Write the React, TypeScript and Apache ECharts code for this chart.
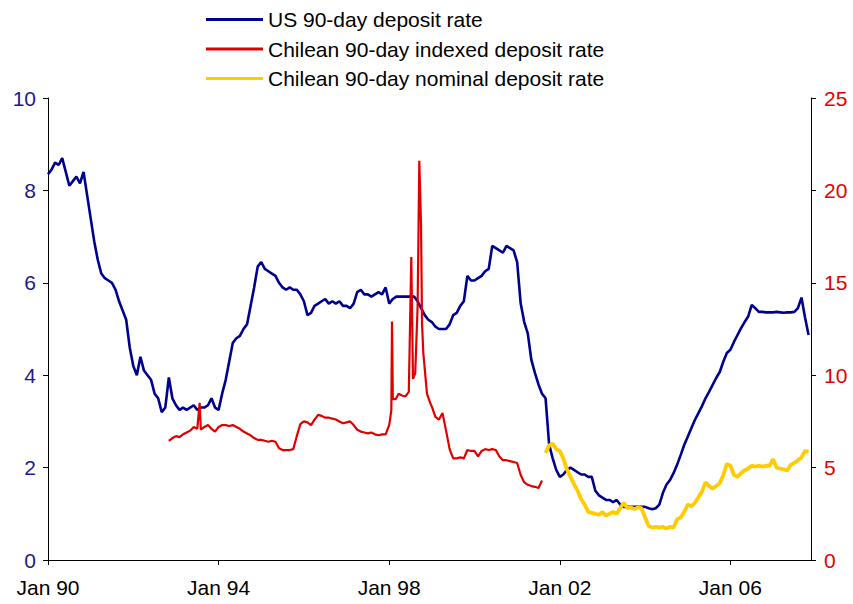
import React, { useEffect, useRef } from 'react';
import * as echarts from 'echarts';

// x axis (decimal years)
const xMin = 1990;
const xMax = 2007.89;
const xTickYears = [1990, 1994, 1998, 2002, 2006];

// US 90-day deposit rate, monthly from Jan 1990 (left axis, %)
const usStart = 1990;
const usRates = [
  8.35, 8.45, 8.6, 8.55, 8.7, 8.4, 8.1, 8.2, 8.3, 8.15, 8.4, 7.9,
  7.4, 6.9, 6.5, 6.2, 6.1, 6.05, 6.0, 5.85, 5.6, 5.4, 5.2, 4.6,
  4.2, 4.0, 4.4, 4.1, 4.0, 3.9, 3.6, 3.5, 3.2, 3.3, 3.95, 3.5,
  3.35, 3.25, 3.3, 3.25, 3.3, 3.35, 3.25, 3.3, 3.3, 3.35, 3.5, 3.3,
  3.25, 3.6, 3.9, 4.3, 4.7, 4.8, 4.85, 5.0, 5.1, 5.5, 5.9, 6.35,
  6.45, 6.3, 6.25, 6.2, 6.15, 6.0, 5.9, 5.85, 5.9, 5.85, 5.85, 5.75,
  5.6, 5.3, 5.35, 5.5, 5.55, 5.6, 5.65, 5.55, 5.6, 5.55, 5.6, 5.5,
  5.5, 5.45, 5.55, 5.8, 5.85, 5.75, 5.75, 5.7, 5.75, 5.8, 5.75, 5.9,
  5.55, 5.65, 5.7, 5.7, 5.7, 5.7, 5.7, 5.7, 5.6, 5.45, 5.3, 5.2,
  5.15, 5.05, 5.0, 5.0, 5.0, 5.1, 5.3, 5.35, 5.5, 5.6, 6.15, 6.05,
  6.05, 6.1, 6.15, 6.25, 6.3, 6.8, 6.75, 6.7, 6.65, 6.8, 6.75, 6.7,
  6.45, 5.55, 5.15, 4.9, 4.33, 4.05, 3.8, 3.6, 3.5, 2.5, 2.2, 1.95,
  1.8, 1.85, 1.95, 2.0, 1.95, 1.9, 1.85, 1.85, 1.8, 1.8, 1.5, 1.4,
  1.35, 1.3, 1.3, 1.25, 1.3, 1.2, 1.15, 1.15, 1.15, 1.15, 1.15, 1.15,
  1.15, 1.12, 1.1, 1.12, 1.2, 1.45, 1.63, 1.73, 1.88, 2.06, 2.27, 2.49,
  2.67, 2.85, 3.03, 3.18, 3.33, 3.5, 3.64, 3.79, 3.94, 4.07, 4.29, 4.48,
  4.55, 4.72, 4.87, 5.02, 5.15, 5.27, 5.52, 5.45, 5.37, 5.37, 5.36, 5.36,
  5.36, 5.37, 5.36, 5.35, 5.36, 5.36, 5.37, 5.45, 5.68, 5.25, 4.87,
];

// Chilean 90-day indexed deposit rate (right axis, %)
const idxEarlyStart = 1992 + 10 / 12; // Nov 1992
const idxEarly = [
  6.45, 6.6,
  6.7, 6.65, 6.8, 6.9, 7.0, 7.2, 7.1, 7.05, 7.2, 7.3, 7.1, 6.95,
  7.2, 7.3, 7.3, 7.25, 7.3, 7.2, 7.1, 6.95, 6.85, 6.75, 6.6, 6.5,
  6.5, 6.45, 6.4, 6.45, 6.4, 6.05, 5.95, 5.95, 5.95, 6.0, 6.7, 7.35,
  7.5, 7.45, 7.3, 7.6, 7.85, 7.8, 7.7, 7.7, 7.65, 7.6, 7.5, 7.4,
  7.45, 7.5, 7.3, 7.05, 6.95, 6.9, 6.85, 6.9, 6.8, 6.75, 6.8, 6.8,
];
const idxSpike1993: [number, number][] = [[1993.555, 8.5]];
const idx1998: [number, number][] = [
  [1998.0, 7.3], [1998.05, 8.1], [1998.066, 12.9], [1998.085, 8.7],
  [1998.15, 8.7], [1998.22, 9.0], [1998.3, 8.9], [1998.38, 8.85],
  [1998.46, 9.1], [1998.518, 16.4], [1998.558, 9.8], [1998.61, 10.1],
  [1998.666, 13.7], [1998.706, 21.6], [1998.746, 18.2], [1998.77, 12.8],
  [1998.8, 11.2], [1998.886, 9.0], [1998.96, 8.5],
];
const idxLateStart = 1999;
const idxLate = [
  8.3, 7.75, 7.6, 7.95, 7.0, 6.0, 5.5, 5.5, 5.55, 5.5, 5.95, 5.9,
  5.9, 5.6, 5.9, 6.0, 5.95, 6.0, 5.95, 5.6, 5.4, 5.4, 5.35, 5.3,
  5.25, 4.6, 4.2, 4.07, 4.0, 3.96, 3.9, 4.3,
];

// Chilean 90-day nominal deposit rate, monthly from Sep 2001 (right axis, %)
const nomStart = 2001 + 8 / 12;
const nomRates = [
  5.8, 6.2, 6.3, 6.0,
  5.9, 5.5, 4.9, 4.5, 4.1, 3.75, 3.3, 3.0, 2.6, 2.55, 2.5, 2.45,
  2.6, 2.4, 2.5, 2.6, 2.5, 2.8, 3.1, 2.8, 2.85, 2.75, 2.85, 2.8,
  2.3, 1.85, 1.75, 1.8, 1.75, 1.8, 1.7, 1.8, 1.75, 2.2, 2.3, 2.6,
  3.0, 2.9, 3.1, 3.4, 3.7, 4.2, 4.0, 3.85, 4.0, 4.15, 4.6, 5.2,
  5.1, 4.6, 4.5, 4.7, 4.85, 4.95, 5.1, 5.05, 5.1, 5.05, 5.1, 5.1,
  5.45, 5.0, 4.95, 4.9, 4.85, 5.15, 5.25, 5.4, 5.55, 5.9, 5.85,
];

const seriesNames = [
  'US 90-day deposit rate',
  'Chilean 90-day indexed deposit rate',
  'Chilean 90-day nominal deposit rate',
];

const monthly = (start: number, arr: number[]) =>
  arr.map((v, i) => [start + i / 12, v] as [number, number]);

const FONT = 'Liberation Sans, Arial, sans-serif';

export default function App() {
  const ref = useRef<HTMLDivElement>(null);
  useEffect(() => {
    if (!ref.current) return;
    const chart = echarts.init(ref.current, undefined, { renderer: 'svg' });
    const usData = monthly(usStart, usRates);
    const idxData = [
      ...monthly(idxEarlyStart, idxEarly),
      ...idxSpike1993,
      ...idx1998,
      ...monthly(idxLateStart, idxLate),
    ].sort((a, b) => a[0] - b[0]);
    const nomData = monthly(nomStart, nomRates);

    const axisLine = { show: true, lineStyle: { color: '#000', width: 1 } };
    chart.setOption({
      animation: false,
      backgroundColor: '#fff',
      grid: { left: 48, right: 42, top: 98, bottom: 44 },
      legend: {
        orient: 'vertical',
        left: 206,
        top: 9,
        padding: 0,
        itemGap: 8.5,
        itemWidth: 57,
        itemHeight: 3,
        icon: 'rect',
        data: seriesNames,
        textStyle: { fontFamily: FONT, fontSize: 21, color: '#000', lineHeight: 21 },
      },
      xAxis: {
        type: 'value',
        min: xMin,
        max: xMax,
        axisLine,
        splitLine: { show: false },
        axisTick: { show: true, inside: false, length: 5, customValues: xTickYears, lineStyle: { color: '#000' } },
        axisLabel: {
          customValues: xTickYears,
          margin: 17,
          fontFamily: FONT,
          fontSize: 21,
          color: '#000',
          formatter: (v: number) => 'Jan ' + String(Math.round(v)).slice(2),
        },
      },
      yAxis: [
        {
          type: 'value',
          min: 0,
          max: 10,
          interval: 2,
          position: 'left',
          axisLine,
          splitLine: { show: false },
          axisTick: { show: true, length: 5, lineStyle: { color: '#000' } },
          axisLabel: { margin: 12, fontFamily: FONT, fontSize: 21, color: '#1a1a8e' },
        },
        {
          type: 'value',
          min: 0,
          max: 25,
          interval: 5,
          position: 'right',
          axisLine,
          splitLine: { show: false },
          axisTick: { show: true, length: 5, lineStyle: { color: '#000' } },
          axisLabel: { margin: 13, fontFamily: FONT, fontSize: 21, color: '#e60000' },
        },
      ],
      series: [
        {
          name: seriesNames[0],
          type: 'line',
          yAxisIndex: 0,
          data: usData,
          showSymbol: false,
          symbol: 'none',
          color: '#000090',
          lineStyle: { width: 2.6, color: '#000090' },
        },
        {
          name: seriesNames[1],
          type: 'line',
          yAxisIndex: 1,
          data: idxData,
          showSymbol: false,
          symbol: 'none',
          color: '#e00000',
          lineStyle: { width: 2.2, color: '#e00000' },
        },
        {
          name: seriesNames[2],
          type: 'line',
          yAxisIndex: 1,
          data: nomData,
          showSymbol: false,
          symbol: 'none',
          color: '#ffcc00',
          lineStyle: { width: 3.8, color: '#ffcc00' },
        },
      ],
    });
    return () => chart.dispose();
  }, []);
  return (
    <div
      ref={ref}
      style={{ position: 'absolute', left: 0, top: 0, width: 853, height: 604 }}
    />
  );
}
